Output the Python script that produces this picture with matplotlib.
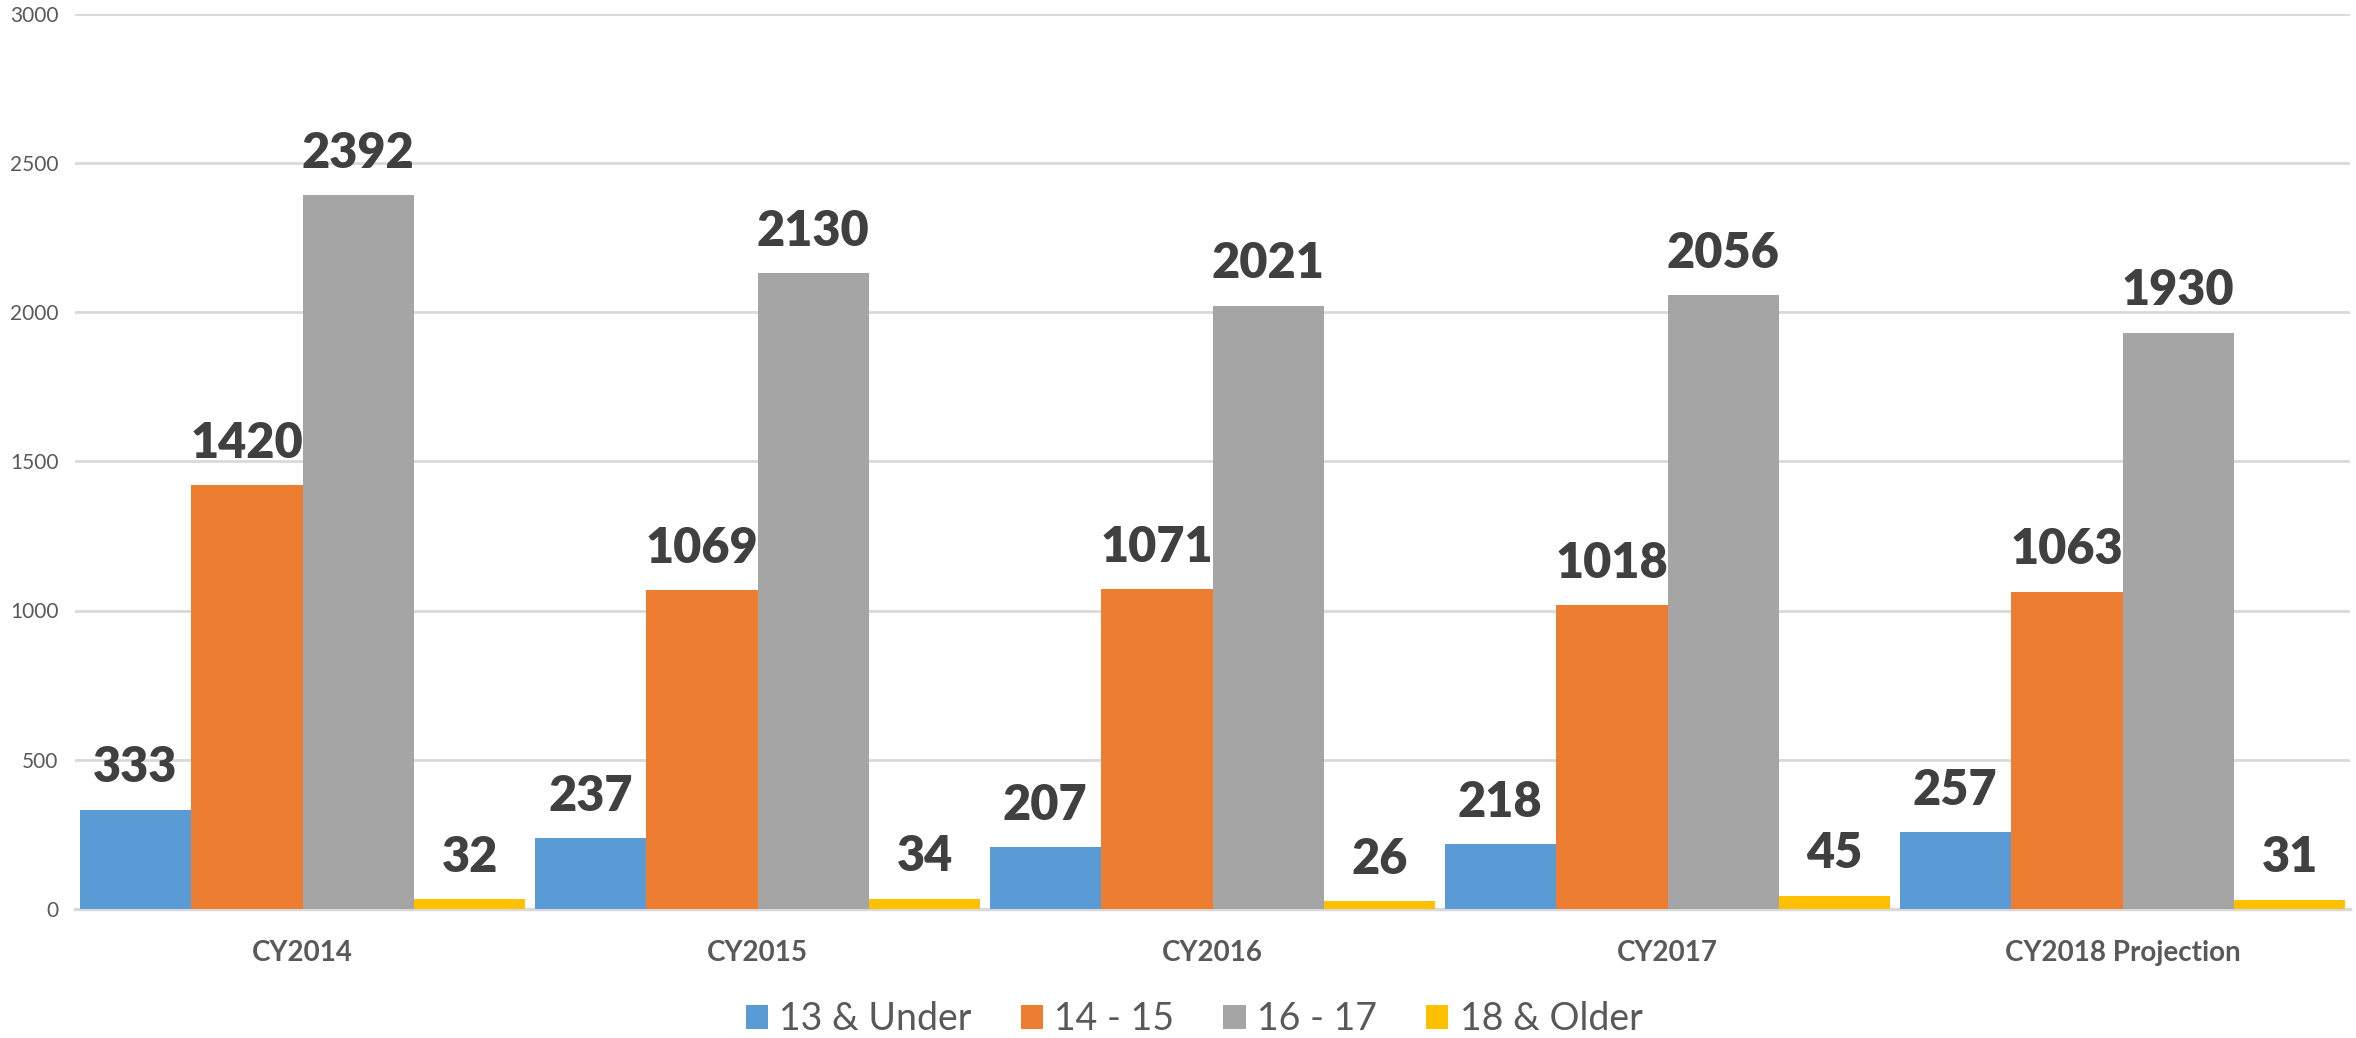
import numpy as np
import matplotlib
matplotlib.use('Agg')
import matplotlib.pyplot as plt

# data
years = ["CY2014", "CY2015", "CY2016", "CY2017", "CY2018 Projection"]
groups = ["13 & Under", "14 - 15", "16 - 17", "18 & Older"]
under13 = [333, 237, 207, 218, 257]
age14_15 = [1420, 1069, 1071, 1018, 1063]
age16_17 = [2392, 2130, 2021, 2056, 1930]
older18 = [32, 34, 26, 45, 31]
colors = ["#5B9BD5", "#ED7D31", "#A5A5A5", "#FFC000"]

plt.rcParams['font.family'] = ['Lato', 'DejaVu Sans']

fig = plt.figure(figsize=(23.56, 10.38), dpi=100)
ax = fig.add_axes([75 / 2356, 129 / 1038, 2275 / 2356, 895.5 / 1038])

x = np.arange(len(years))
width = 0.245
series = [under13, age14_15, age16_17, older18]
for i, (vals, col, name) in enumerate(zip(series, colors, groups)):
    pos = x + (i - 1.5) * width
    bars = ax.bar(pos, vals, width, color=col, label=name, zorder=3)
    for b, v in zip(bars, vals):
        ax.text(b.get_x() + b.get_width() / 2, v + 65, str(v),
                ha='center', va='bottom', fontsize=35, fontweight='heavy',
                color='#404040')

ax.set_xlim(-0.5, len(years) - 0.5)
ax.set_ylim(0, 3000)
ax.set_yticks(range(0, 3001, 500))
ax.set_xticks(x)
ax.set_xticklabels(years, fontsize=20, fontweight='bold', color='#595959')
ax.tick_params(axis='x', length=0, pad=22)
ax.tick_params(axis='y', length=0, pad=12, labelsize=15, labelcolor='#595959')
ax.grid(axis='y', color='#D9D9D9', linewidth=2, zorder=0)
for s in ['top', 'right', 'left']:
    ax.spines[s].set_visible(False)
ax.spines['bottom'].set_color('#D9D9D9')
ax.spines['bottom'].set_linewidth(2.5)

leg = fig.legend(loc='center', bbox_to_anchor=(1194 / 2356, 19 / 1038), ncol=4,
                 frameon=False, fontsize=27, handlelength=0.6, handleheight=0.6,
                 handletextpad=0.3, columnspacing=1.3)
for t in leg.get_texts():
    t.set_color('#595959')

fig.savefig("out.png", dpi=100)
